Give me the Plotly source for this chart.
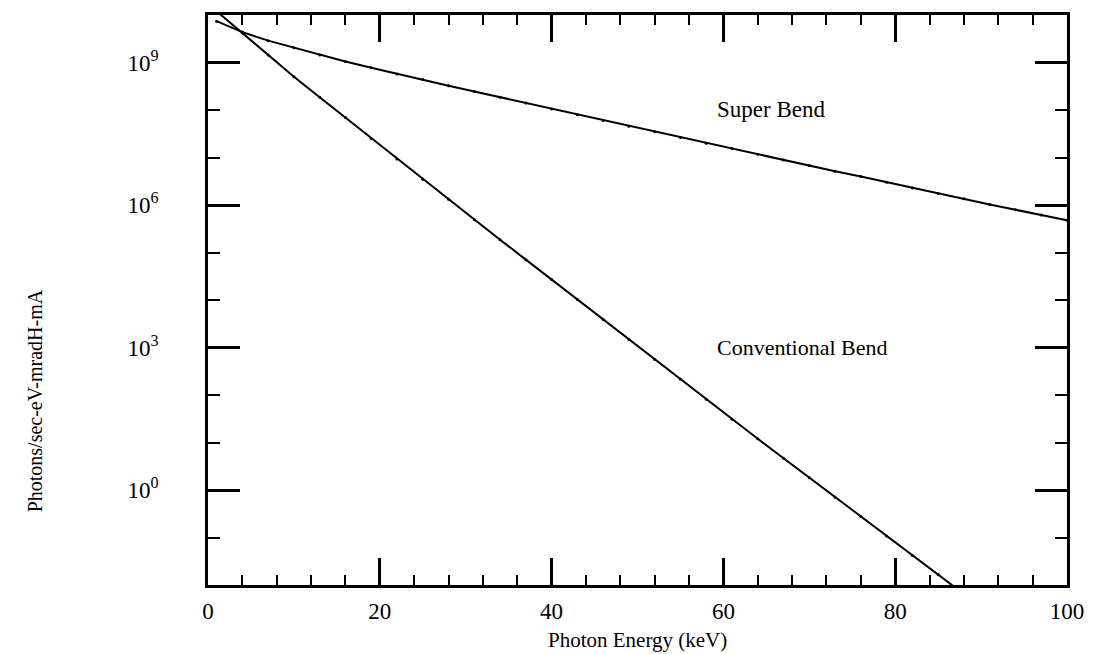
import plotly.graph_objects as go

# Photon energy grid (keV) shared by both spectra
energy_kev = [1, 4, 7, 10, 13, 16, 19, 22, 25, 28, 31, 34, 37, 40, 43, 46, 49,
              52, 55, 58, 61, 64, 67, 70, 73, 76, 79, 82, 85, 88, 91, 94, 97, 100]

# log10 of flux (photons/sec-eV-mradH-mA)
super_bend_log = [9.87, 9.64, 9.46, 9.31, 9.16, 9.02, 8.89, 8.76, 8.64, 8.51,
                  8.39, 8.27, 8.15, 8.02, 7.90, 7.78, 7.66, 7.54, 7.42, 7.30,
                  7.19, 7.07, 6.95, 6.83, 6.71, 6.60, 6.48, 6.36, 6.24, 6.13,
                  6.01, 5.90, 5.79, 5.68]

conv_energy_kev = [1, 4, 7, 10, 13, 16, 19, 22, 25, 28, 31, 34, 37, 40, 43, 46,
                   49, 52, 55, 58, 61, 64, 67, 70, 73, 76, 79, 82, 85, 88]
conventional_log = [10.08, 9.62, 9.16, 8.70, 8.27, 7.84, 7.40, 6.97, 6.54, 6.12,
                    5.69, 5.27, 4.85, 4.43, 4.01, 3.59, 3.17, 2.75, 2.33, 1.91,
                    1.49, 1.08, 0.67, 0.26, -0.15, -0.56, -0.97, -1.38, -1.78, -2.19]

y_major_exp = [0, 3, 6, 9]
y_minor_exp = list(range(-2, 11))
x_major = [0, 20, 40, 60, 80, 100]
x_minor = [v for v in range(0, 101, 4) if v % 20 != 0]

super_bend = [10 ** v for v in super_bend_log]
conventional = [10 ** v for v in conventional_log]

SERIF = "Liberation Serif, Times New Roman, serif"

fig = go.Figure()
for xs, ys in ((energy_kev, super_bend), (conv_energy_kev, conventional)):
    fig.add_trace(go.Scatter(
        x=xs, y=ys, mode="lines+markers",
        line=dict(color="black", width=2),
        marker=dict(color="black", size=3),
        showlegend=False, cliponaxis=True,
    ))

# curve labels
fig.add_annotation(x=59.0, y=8.01, xref="x", yref="y", text="Super Bend",
                   showarrow=False, xanchor="left", yanchor="middle",
                   font=dict(family=SERIF, size=23, color="black"))
fig.add_annotation(x=59.0, y=3.0, xref="x", yref="y", text="Conventional Bend",
                   showarrow=False, xanchor="left", yanchor="middle",
                   font=dict(family=SERIF, size=22, color="black"))

# axis titles
fig.add_annotation(x=0.5, y=-0.096, xref="paper", yref="paper",
                   text="Photon Energy (keV)", showarrow=False,
                   xanchor="center", yanchor="middle",
                   font=dict(family=SERIF, size=21, color="black"))
fig.add_annotation(x=-0.202, y=0.323, xref="paper", yref="paper",
                   text="Photons/sec-eV-mradH-mA", showarrow=False, textangle=-90,
                   xanchor="center", yanchor="middle",
                   font=dict(family=SERIF, size=20, color="black"))

fig.update_xaxes(
    range=[0, 100], tickmode="array", tickvals=x_major,
    ticktext=[str(v) for v in x_major],
    ticks="inside", ticklen=27, tickwidth=2.5, tickcolor="black",
    minor=dict(tickmode="array", tickvals=x_minor, ticks="inside", ticklen=10,
               tickwidth=2, tickcolor="black", showgrid=False),
    showline=True, linecolor="black", linewidth=2.5, mirror="allticks",
    showgrid=False, zeroline=False, ticklabelstandoff=4,
    tickfont=dict(family=SERIF, size=23, color="black"),
)
fig.update_yaxes(
    type="log", range=[-2, 10], tickmode="array",
    tickvals=[10 ** e for e in y_major_exp],
    ticktext=["10<sup>%d</sup>" % e for e in y_major_exp],
    ticks="inside", ticklen=32, tickwidth=2.5, tickcolor="black",
    minor=dict(tickmode="array",
               tickvals=[10 ** e for e in y_minor_exp if e not in y_major_exp],
               ticks="inside", ticklen=12, tickwidth=2, tickcolor="black",
               showgrid=False),
    showline=True, linecolor="black", linewidth=2.5, mirror="allticks",
    showgrid=False, zeroline=False, ticklabelstandoff=42,
    tickfont=dict(family=SERIF, size=23, color="black"),
)

fig.update_layout(
    width=1096, height=654,
    margin=dict(l=208, r=21, t=13, b=69),
    paper_bgcolor="white", plot_bgcolor="white",
)

fig.write_html("out.html")
